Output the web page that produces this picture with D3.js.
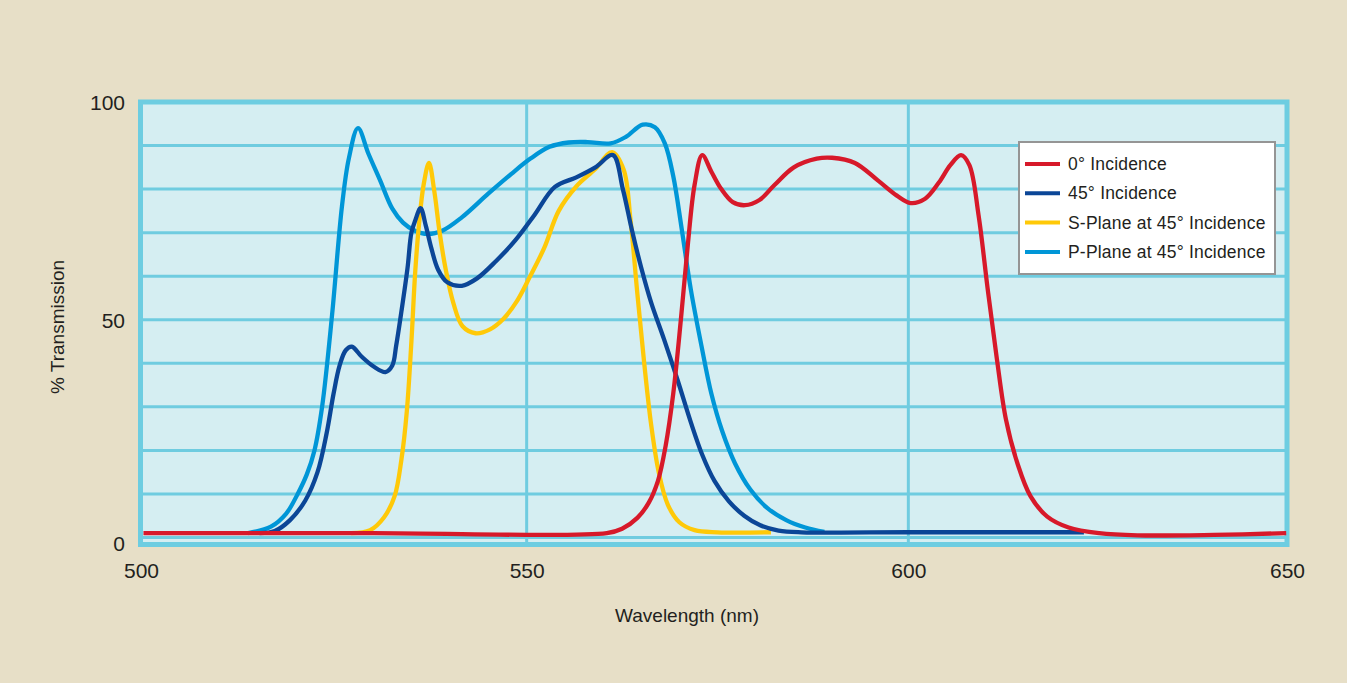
<!DOCTYPE html>
<html><head><meta charset="utf-8">
<script src="https://cdn.jsdelivr.net/npm/d3@7/dist/d3.min.js"></script>
<style>
html,body{margin:0;padding:0;background:#E7DFC7;}
svg{display:block;font-family:"Liberation Sans",Arial,sans-serif;}
</style></head>
<body>
<svg id="chart" width="1347" height="683"></svg>
<script>
// ---- data ----
const xTicks = [500, 550, 600, 650];
const yTicks = [0, 50, 100];
const gridY = [0, 10, 20, 30, 40, 50, 60, 70, 80, 90];
const gridX = [550, 600];

const seriesNames = ["0° Incidence", "45° Incidence", "S-Plane at 45° Incidence", "P-Plane at 45° Incidence"];
const seriesColors = ["#D7192A", "#0B4697", "#FFC908", "#0096D7"];

const red0 = [[499.8,1.0],[530,1.0],[560.5,1.0],[562.5,2.0],[564.5,4.5],[566,8],[567.2,13],[568.2,21],[569.2,33],[570.2,50],[571.1,67],[572,81],[573,87.8],[574.2,84],[575.5,80],[577,77],[578.6,76.3],[580.5,77.5],[582.5,81],[585,85],[588,87],[590,87.2],[593,86],[596,82],[598.5,78.5],[600.3,76.8],[602.2,77.8],[604,81.5],[605.5,85.5],[606.9,87.8],[608,85.5],[609.2,74],[610.4,57],[611.6,41],[612.8,27],[614.3,17],[616,9.5],[618.2,4.8],[621,2.3],[625,1.0],[630,0.5],[640,0.6],[649.5,1.0]];

const blue45 = [[515,1.0],[517,1.5],[519,4],[521,8.5],[522.6,15],[523.8,24],[524.7,33],[525.5,39.5],[526.3,43],[527.1,43.8],[528.4,41.5],[530,39.2],[531.5,38],[532.4,39.5],[532.9,44],[533.6,52],[534.4,62],[534.9,70],[535.4,72.8],[536.1,75.6],[536.8,71.5],[537.5,66.5],[538.4,61.5],[539.6,58.6],[541.5,57.8],[543.5,59.5],[546,63.5],[548.5,68.2],[551,74],[553.7,80.5],[556.5,82.7],[559,85],[561.3,87.8],[562.6,80],[563.8,70.5],[565,62],[566.3,54],[568,45.5],[569.8,36],[571.5,26.5],[573,19],[574.6,13],[576.5,8.3],[578.5,5],[580.6,2.8],[583,1.6],[586,1.2],[600,1.2],[615,1.2],[623,1.2]];

const sPlane = [[527,1.0],[529.5,1.7],[531.3,4.6],[532.7,9.5],[533.6,18],[534.3,29],[534.9,45],[535.4,61],[535.9,72],[536.5,81],[537.2,86],[537.9,79.5],[538.6,70],[539.4,61.5],[540.4,53.8],[541.6,48.5],[543.3,46.9],[545.2,47.8],[547,50.3],[548.7,54.2],[550.4,59.8],[552.3,66.5],[554.2,75],[556.5,80.6],[559,84.6],[561.2,88.5],[562.7,84.5],[563.6,73],[564.5,56],[565.4,40],[566.3,26],[567.3,15],[568.5,7.5],[570,3.5],[572,1.7],[575,1.2],[582,1.2]];

const pPlane = [[513.5,1.0],[516.5,2.5],[518.5,5.5],[520,10],[521.2,14.5],[522.2,20],[523.2,30],[524.5,51],[525.8,76],[526.7,87],[527.9,94],[529.3,88],[530.8,82],[532.4,75.5],[533.8,72.3],[535.3,70.5],[537,69.7],[539,70.5],[541.5,73.5],[545,79],[548,83.5],[550.5,87],[553,89.7],[555.5,90.7],[558,90.8],[561,90.5],[563,92],[565.2,94.8],[566.8,94.2],[568.1,90.5],[569.2,83],[570.3,71],[571.5,57],[572.9,44],[574.2,33],[575.6,24.5],[577.3,17],[579.3,11],[581.5,6.8],[584,4],[586.5,2.3],[589,1.3]];

const seriesData = [red0, blue45, sPlane, pPlane];

// ---- chart ----
const svg = d3.select("#chart");
const x = d3.scaleLinear().domain([500, 650]).range([145, 1290]);
const y = d3.scaleLinear().domain([0, 100]).range([537.5, 102]);

const gridColor = "#6FCCE0";
const fx0 = x(500) - 4.5, fx1 = x(650) - 3, fy0 = y(100), fy1 = y(0) + 7;
// plot background
svg.append("rect")
  .attr("x", fx0).attr("y", fy0)
  .attr("width", fx1 - fx0).attr("height", fy1 - fy0)
  .attr("fill", "#D5EEF2");

// grid
svg.append("g").selectAll("line").data(gridY).join("line")
  .attr("x1", fx0).attr("x2", fx1)
  .attr("y1", d => y(d)).attr("y2", d => y(d))
  .attr("stroke", gridColor).attr("stroke-width", 3);
svg.append("g").selectAll("line").data(gridX).join("line")
  .attr("x1", d => x(d)).attr("x2", d => x(d))
  .attr("y1", fy0).attr("y2", fy1)
  .attr("stroke", gridColor).attr("stroke-width", 3);

// frame
svg.append("rect")
  .attr("x", fx0).attr("y", fy0)
  .attr("width", fx1 - fx0).attr("height", fy1 - fy0)
  .attr("fill", "none").attr("stroke", "#6DCDE1").attr("stroke-width", 5);

// lines
const line = d3.line().x(d => x(d[0])).y(d => y(d[1])).curve(d3.curveCatmullRom.alpha(0.5));
const drawOrder = [3, 2, 1, 0];
svg.append("g").selectAll("path").data(drawOrder).join("path")
  .attr("d", i => line(seriesData[i]))
  .attr("fill", "none")
  .attr("stroke", i => seriesColors[i])
  .attr("stroke-width", 4.3)
  .attr("stroke-linejoin", "round")
  .attr("stroke-linecap", "butt");

// axes ticks (text only)
const xAxis = d3.axisBottom(x).tickValues(xTicks).tickSize(0).tickPadding(0);
const gx = svg.append("g").attr("transform", `translate(0,${y(0) + 40})`).call(xAxis);
gx.select(".domain").remove();
gx.selectAll("text").attr("font-size", 21).attr("fill", "#231F20")
  .attr("font-family", "'Liberation Sans',Arial,sans-serif").attr("dy", "0").attr("y", 0)
  .attr("dx", d => d === 650 ? -3 : (d === 500 ? -4 : 0));

const yAxis = d3.axisLeft(y).tickValues(yTicks).tickSize(0).tickPadding(0);
const gy = svg.append("g").attr("transform", `translate(125,0)`).call(yAxis);
gy.select(".domain").remove();
gy.selectAll("text").attr("font-size", 21).attr("fill", "#231F20")
  .attr("font-family", "'Liberation Sans',Arial,sans-serif")
  .attr("dy", d => d === 0 ? "0.62em" : "0.35em").attr("x", 0);

// axis titles
svg.append("text").attr("x", 687).attr("y", 622)
  .attr("text-anchor", "middle").attr("font-size", 19).attr("fill", "#231F20")
  .text("Wavelength (nm)");
svg.append("text").attr("transform", "translate(64,327) rotate(-90)")
  .attr("text-anchor", "middle").attr("font-size", 19).attr("fill", "#231F20")
  .text("% Transmission");

// legend
const lg = svg.append("g");
lg.append("rect").attr("x", 1019).attr("y", 142).attr("width", 256).attr("height", 132)
  .attr("fill", "#FFFFFF").attr("stroke", "#959595").attr("stroke-width", 2);
const items = lg.selectAll("g.item").data(seriesNames).join("g")
  .attr("class", "item")
  .attr("transform", (d, i) => `translate(1025,${164 + i * 29.3})`);
items.append("line").attr("x1", 0).attr("x2", 35).attr("y1", 0).attr("y2", 0)
  .attr("stroke", (d, i) => seriesColors[i]).attr("stroke-width", 4);
items.append("text").attr("x", 43).attr("y", 0).attr("dy", "0.35em")
  .attr("font-size", 17.5).attr("letter-spacing", "0.2px").attr("fill", "#231F20").text(d => d);
</script>
</body></html>
